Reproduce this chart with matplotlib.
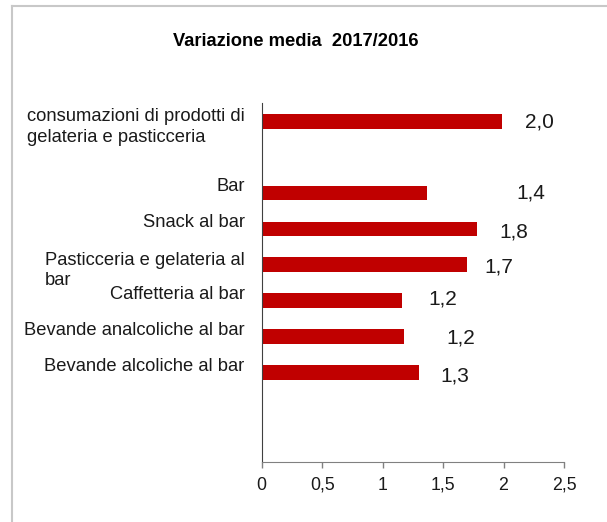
import matplotlib
matplotlib.use("Agg")
import matplotlib.pyplot as plt
from matplotlib.lines import Line2D
import numpy as np

plt.rcParams['font.family'] = ['Liberation Sans', 'DejaVu Sans']

# ---- data ----
categories = [
    "consumazioni di prodotti di\ngelateria e pasticceria",
    "",
    "Bar",
    "Snack al bar",
    "Pasticceria e gelateria al\nbar",
    "Caffetteria al bar",
    "Bevande analcoliche al bar",
    "Bevande alcoliche al bar",
    "",
    "",
]
values = [1.985, np.nan, 1.37, 1.78, 1.70, 1.16, 1.18, 1.30, np.nan, np.nan]
value_labels = ["2,0", "", "1,4", "1,8", "1,7", "1,2", "1,2", "1,3", "", ""]
xticks = [0, 0.5, 1, 1.5, 2, 2.5]
xtick_labels = ["0", "0,5", "1", "1,5", "2", "2,5"]
title = "Variazione media  2017/2016"

# ---- layout (label placement, as in reference) ----
label_x = [2.30, None, 2.228, 2.087, 1.963, 1.50, 1.65, 1.595, None, None]
label_dy = [0.03, 0, -0.01, 0.075, 0.07, -0.06, 0.03, 0.11, 0, 0]

W, H = 607, 522
fig = plt.figure(figsize=(W / 100, H / 100), dpi=100)
fig.patch.set_facecolor("white")

# border lines (top and left visible)
fig.add_artist(Line2D([12 / W, 1.0], [1 - 6 / H, 1 - 6 / H], color="#c8c8c8", lw=1.5,
                      transform=fig.transFigure))
fig.add_artist(Line2D([12 / W, 12 / W], [0.0, 1 - 6 / H], color="#c8c8c8", lw=1.5,
                      transform=fig.transFigure))

ax = fig.add_axes([261.7 / W, (H - 462.3) / H, (564 - 261.7) / W, (462.3 - 103.3) / H])

pos = np.arange(len(categories))
ax.barh(pos, values, height=0.41, color="#C00000")

ax.set_xlim(0, 2.5)
ax.set_ylim(len(categories) - 0.5, -0.5)
ax.set_xticks(xticks)
ax.set_xticklabels(xtick_labels, fontsize=12.8, color="#1a1a1a")
ax.tick_params(axis="x", direction="out", length=4, width=1, color="#808080", pad=6.5)
ax.set_yticks([])

for s in ["top", "right"]:
    ax.spines[s].set_visible(False)
ax.spines["left"].set_color("#404040")
ax.spines["bottom"].set_color("#808080")

# category labels (multi-line labels: each line drawn separately, left-aligned block)
lab_x = -17 / (564 - 261.7) * 2.5
line_step = 0.57  # slot units between wrapped lines
fig.canvas.draw()
renderer = fig.canvas.get_renderer()
for i, c in enumerate(categories):
    if not c:
        continue
    lines = c.split("\n")
    if len(lines) == 1:
        ax.text(lab_x, pos[i] - 0.18, c, ha="right", va="center",
                fontsize=13.2, color="#1a1a1a")
        continue
    y0 = pos[i] - 0.13
    texts = []
    for k, ln in enumerate(lines):
        t = ax.text(lab_x, y0 + k * line_step, ln, ha="right", va="center",
                    fontsize=13.2, color="#1a1a1a")
        texts.append(t)
    # left-align all lines on the widest line's left edge
    lefts = [t.get_window_extent(renderer).x0 for t in texts]
    left_px = min(lefts)
    left_data = ax.transData.inverted().transform((left_px, 0))[0]
    for t in texts:
        t.set_x(left_data)
        t.set_ha("left")

# value labels
for i, (lx, lab) in enumerate(zip(label_x, value_labels)):
    if lx is None or not lab:
        continue
    ax.text(lx, pos[i] + label_dy[i], lab, ha="center", va="center", fontsize=15,
            color="#1a1a1a")

fig.text(296 / W, 1 - 41.5 / H, title, ha="center", va="center", fontsize=13.2,
         fontweight="bold")

fig.savefig("out.png", dpi=100)
